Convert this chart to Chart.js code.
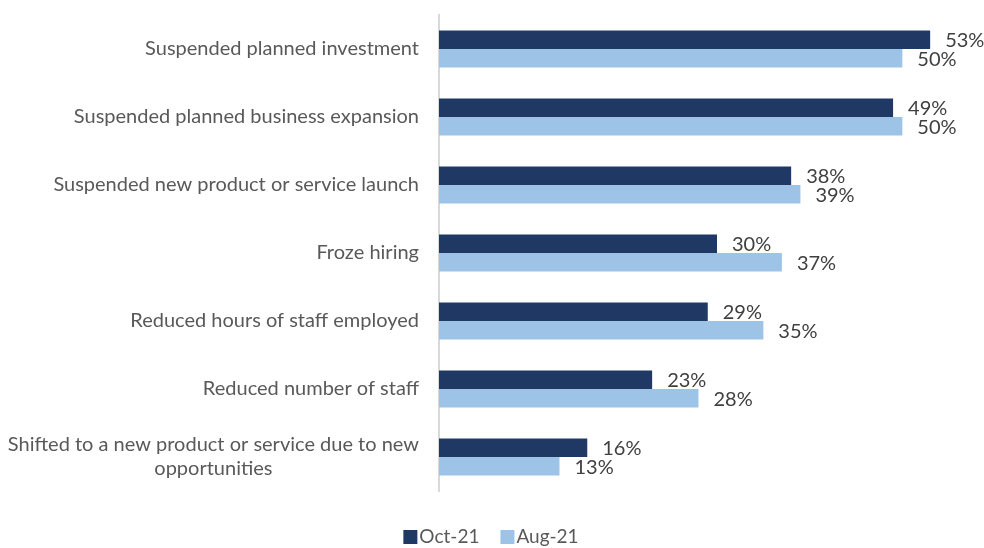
<!DOCTYPE html>
<html><head><meta charset="utf-8">
<script src="https://cdn.jsdelivr.net/npm/chart.js@4"></script>
<style>html,body{margin:0;padding:0;background:#fff}</style>
</head><body>
<canvas id="c" width="984" height="548"></canvas>
<script>
const categories = [
  ["Suspended planned investment"],
  ["Suspended planned business expansion"],
  ["Suspended new product or service launch"],
  ["Froze hiring"],
  ["Reduced hours of staff employed"],
  ["Reduced number of staff"],
  ["Shifted to a new product or service due to new", "opportunities"]
];
const seriesNames = ["Oct-21", "Aug-21"];
const oct21 = [53, 49, 38, 30, 29, 23, 16];
const aug21 = [50, 50, 39, 37, 35, 28, 13];
const colors = ["#203864", "#9DC3E6"];

const FONT = "Lato, 'Open Sans', sans-serif";
const FS = 20;

const drawPlugin = {
  id: 'drawPlugin',
  afterDatasetsDraw(chart) {
    const ctx = chart.ctx;
    ctx.save();
    ctx.font = FS + 'px ' + FONT;
    ctx.textBaseline = 'middle';
    // value labels
    ctx.fillStyle = '#404040';
    ctx.textAlign = 'left';
    chart.data.datasets.forEach((ds, i) => {
      chart.getDatasetMeta(i).data.forEach((bar, j) => {
        ctx.fillText(ds.data[j] + '%', bar.x + 15, bar.y + 1);
      });
    });
    // category labels
    const ys = chart.scales.y;
    const rightX = chart.chartArea.left - 20;
    ctx.fillStyle = '#595959';
    categories.forEach((lines, j) => {
      const y = ys.getPixelForValue(j);
      if (lines.length === 1) {
        ctx.textAlign = 'right';
        ctx.fillText(lines[0], rightX, y);
      } else {
        const maxW = Math.max(...lines.map(l => ctx.measureText(l).width));
        const cx = rightX - maxW / 2;
        const lh = 24;
        ctx.textAlign = 'center';
        lines.forEach((l, k) => {
          ctx.fillText(l, cx, y - (lines.length - 1) * lh / 2 + k * lh);
        });
      }
    });
    // legend
    ctx.font = '19px ' + FONT;
    const items = chart.data.datasets.map(d => ({text: d.label, color: d.backgroundColor}));
    const box = 14, gapText = 2, gapItem = 21;
    const widths = items.map(it => box + gapText + ctx.measureText(it.text).width);
    const total = widths.reduce((a, b) => a + b, 0) + gapItem * (items.length - 1);
    let x = (chart.width - total) / 2 - 1;
    const ly = 537;
    ctx.textAlign = 'left';
    items.forEach((it, k) => {
      ctx.fillStyle = it.color;
      ctx.fillRect(x, ly - 7, box, box);
      ctx.fillStyle = '#595959';
      ctx.fillText(it.text, x + box + gapText, ly);
      x += widths[k] + gapItem;
    });
    ctx.restore();
  }
};

new Chart(document.getElementById('c'), {
  type: 'bar',
  data: {
    labels: categories.map(c => c.join(' ')),
    datasets: [
      {label: seriesNames[0], data: oct21, backgroundColor: colors[0], categoryPercentage: 0.545, barPercentage: 1},
      {label: seriesNames[1], data: aug21, backgroundColor: colors[1], categoryPercentage: 0.545, barPercentage: 1}
    ]
  },
  options: {
    indexAxis: 'y',
    responsive: false,
    devicePixelRatio: 1,
    animation: false,
    layout: {padding: {top: 15, right: 14, left: 0, bottom: 0}},
    plugins: {legend: {display: false}, tooltip: {enabled: false}},
    scales: {
      x: {
        min: 0, max: 57.3,
        grid: {display: false},
        border: {display: false},
        ticks: {display: false},
        afterFit(s) { s.height = 57; }
      },
      y: {
        grid: {display: false},
        border: {display: true, color: '#D9D9D9', width: 2},
        ticks: {display: false},
        afterFit(s) { s.width = 439; }
      }
    }
  },
  plugins: [drawPlugin]
});
</script>
</body></html>
